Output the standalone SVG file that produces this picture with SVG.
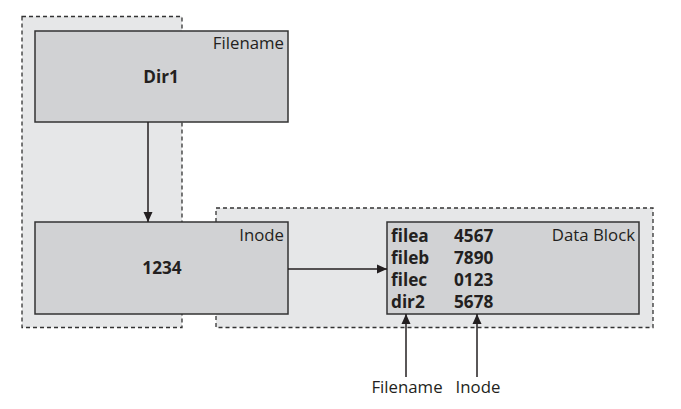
<svg xmlns="http://www.w3.org/2000/svg" width="681" height="409" viewBox="0 0 681 409">
<style>
.cont{fill:#e6e7e8;stroke:#333;stroke-width:1.3;stroke-dasharray:4,3}
.box{fill:#d1d2d4;stroke:#333;stroke-width:1.5}
.lbl{font-family:"Open Sans","Liberation Sans",Arial,sans-serif;font-size:16.8px;fill:#231f20}
.b{font-family:"Open Sans","Liberation Sans",Arial,sans-serif;font-size:17.2px;font-weight:bold;fill:#231f20}
.conn{stroke:#231f20;stroke-width:1.5;fill:none}
</style>
<defs>
<marker id="ah" viewBox="0 0 10 10" refX="10" refY="5" markerWidth="10" markerHeight="10" markerUnits="userSpaceOnUse" orient="auto"><path d="M0,0.5L10,5L0,9.5z" fill="#231f20"/></marker>
</defs>
<rect x="0" y="0" width="681" height="409" fill="#fff"/>
<g id="containers">
<rect class="cont" x="22" y="16.5" width="160" height="311"/>
<rect class="cont" x="216" y="208" width="437" height="119.5"/>
</g>
<g id="dir1">
<rect class="box" x="35" y="31" width="253" height="91"/>
<text class="lbl" x="284" y="49" text-anchor="end">Filename</text>
<text class="b" x="161" y="83" text-anchor="middle">Dir1</text>
</g>
<g id="inode">
<rect class="box" x="35" y="222" width="253" height="92"/>
<text class="lbl" x="284" y="241" text-anchor="end">Inode</text>
<text class="b" x="162" y="274" text-anchor="middle">1234</text>
</g>
<g id="datablock">
<rect class="box" x="387" y="222" width="252" height="92"/>
<text class="lbl" x="635" y="241" text-anchor="end">Data Block</text>
<text class="b" x="391" y="242">filea</text>
<text class="b" x="454" y="242">4567</text>
<text class="b" x="391" y="264">fileb</text>
<text class="b" x="454" y="264">7890</text>
<text class="b" x="391" y="286">filec</text>
<text class="b" x="454" y="286">0123</text>
<text class="b" x="391" y="308">dir2</text>
<text class="b" x="454" y="308">5678</text>
</g>
<g id="label-filename">
<text class="lbl" x="407" y="393" text-anchor="middle">Filename</text>
</g>
<g id="label-inode">
<text class="lbl" x="478" y="393" text-anchor="middle">Inode</text>
</g>
<g id="connectors">
<line class="conn" x1="148" y1="122" x2="148" y2="222" marker-end="url(#ah)"/>
<line class="conn" x1="288" y1="269" x2="387" y2="269" marker-end="url(#ah)"/>
<line class="conn" x1="406" y1="377" x2="406" y2="314" marker-end="url(#ah)"/>
<line class="conn" x1="477" y1="377" x2="477" y2="314" marker-end="url(#ah)"/>
</g>
</svg>
